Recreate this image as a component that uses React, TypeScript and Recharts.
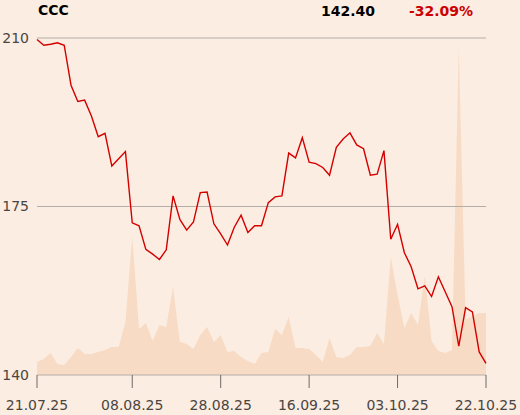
import React from 'react';
import { ComposedChart, Line, Area, XAxis, YAxis, ReferenceLine } from 'recharts';

const dates = [
  '21.07.25', '22.07.25', '23.07.25', '24.07.25', '25.07.25', '28.07.25', '29.07.25', '30.07.25', '31.07.25',
  '01.08.25', '04.08.25', '05.08.25', '06.08.25', '07.08.25', '08.08.25', '11.08.25', '12.08.25', '13.08.25', '14.08.25',
  '18.08.25', '19.08.25', '20.08.25', '21.08.25', '22.08.25', '25.08.25', '26.08.25', '27.08.25', '28.08.25', '29.08.25',
  '01.09.25', '02.09.25', '03.09.25', '04.09.25', '05.09.25', '08.09.25', '09.09.25', '10.09.25', '11.09.25', '12.09.25',
  '15.09.25', '16.09.25', '17.09.25', '18.09.25', '19.09.25', '22.09.25', '23.09.25', '24.09.25', '25.09.25', '26.09.25',
  '29.09.25', '30.09.25', '01.10.25', '02.10.25', '03.10.25', '06.10.25', '07.10.25', '08.10.25', '09.10.25', '10.10.25',
  '13.10.25', '14.10.25', '15.10.25', '16.10.25', '17.10.25', '20.10.25', '21.10.25', '22.10.25',
];

const prices = [
  209.7, 208.5, 208.7, 209.0, 208.5, 200.2, 196.8, 197.1, 193.8,
  189.5, 190.2, 183.4, 184.9, 186.4, 171.6, 171.0, 166.1, 165.1, 164.0,
  166.0, 177.2, 172.3, 170.1, 171.8, 177.9, 178.0, 171.4, 169.3, 167.0,
  170.7, 173.2, 169.6, 171.0, 171.0, 175.8, 177.0, 177.2, 186.1, 185.1,
  189.3, 184.2, 183.9, 183.1, 181.5, 187.3, 189.0, 190.3, 187.8, 187.0,
  181.5, 181.7, 186.6, 168.2, 171.3, 165.4, 162.5, 157.9, 158.5, 156.3,
  160.4, 157.3, 154.2, 146.0, 154.0, 153.1, 144.8, 142.4,
];

const volumes = [
  13, 16, 22, 11, 10, 18, 27, 21, 21,
  23, 25, 28, 28, 53, 138, 46, 52, 34, 50,
  48, 88, 33, 31, 26, 40, 48, 33, 40, 23,
  24, 18, 14, 11, 22, 23, 46, 40, 58, 27,
  27, 26, 20, 13, 37, 18, 17, 20, 28, 28,
  29, 42, 31, 118, 80, 47, 62, 50, 99, 34,
  24, 22, 25, 327, 55, 59, 62, 62,
];

const xTickLabels = ['21.07.25', '08.08.25', '28.08.25', '16.09.25', '03.10.25', '22.10.25'];
const yTicks = [140, 175, 210];

const ticker = 'CCC';
const lastPrice = '142.40';
const change = '-32.09%';

const data = dates.map((d, i) => ({ i, date: d, price: prices[i], volume: volumes[i] }));
const xTickIdx = xTickLabels.map((l) => dates.indexOf(l));

const BG = '#fbede1';
const FONT = 'DejaVu Sans';
const TXT = '#4a4542';
const GRID = '#b3ada8';

export default function App() {
  return (
    <div style={{ position: 'absolute', left: 0, top: 0, width: 520, height: 415, background: BG, overflow: 'hidden' }}>
      <ComposedChart
        width={520}
        height={415}
        data={data}
        margin={{ top: 38, right: 34, bottom: 0, left: 0 }}
      >
        <XAxis
          dataKey="i"
          type="number"
          domain={[0, dates.length - 1]}
          ticks={xTickIdx}
          tickFormatter={(v) => dates[v]}
          interval={0}
          height={40}
          axisLine={{ stroke: GRID }}
          tickLine={{ stroke: '#6f6a66' }}
          tickSize={13}
          tickMargin={12}
          tick={{ fill: TXT, fontSize: 14, fontFamily: FONT }}
        />
        <YAxis
          yAxisId="price"
          domain={[140, 210]}
          ticks={yTicks}
          width={37}
          axisLine={false}
          tickLine={false}
          tickSize={0}
          tickMargin={8}
          tick={{ fill: TXT, fontSize: 14, fontFamily: FONT }}
        />
        <YAxis yAxisId="vol" hide domain={[0, 337]} />
        <Area
          yAxisId="vol"
          dataKey="volume"
          type="linear"
          stroke="none"
          fill="#f7dbc5"
          fillOpacity={1}
          isAnimationActive={false}
        />
        {yTicks.filter((t) => t > yTicks[0]).map((t) => (
          <ReferenceLine key={t} yAxisId="price" y={t} stroke={GRID} strokeWidth={1} />
        ))}
        <Line
          yAxisId="price"
          dataKey="price"
          type="linear"
          stroke="#d40000"
          strokeWidth={1.4}
          dot={false}
          isAnimationActive={false}
        />
      </ComposedChart>
      <svg width={520} height={30} style={{ position: 'absolute', left: 0, top: 0 }}>
        <text x={38} y={14.5} fontFamily={FONT} fontWeight="bold" fontSize={14} fill="#000">{ticker}</text>
        <text x={375} y={15.5} textAnchor="end" fontFamily={FONT} fontWeight="bold" fontSize={14} fill="#000">{lastPrice}</text>
        <text x={473} y={15.5} textAnchor="end" fontFamily={FONT} fontWeight="bold" fontSize={14} fill="#cc0000">{change}</text>
      </svg>
    </div>
  );
}
